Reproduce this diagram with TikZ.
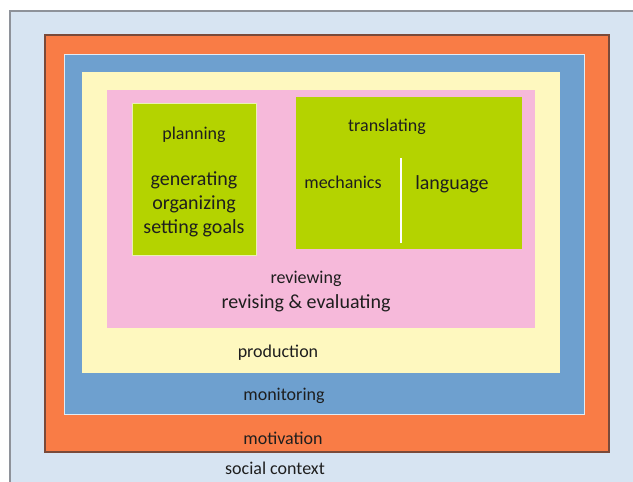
\documentclass[tikz,border=0pt]{standalone}
\usepackage{fontspec}
\setmainfont{Carlito}
\definecolor{bgblue}{HTML}{D7E4F2}
\definecolor{bgborder}{HTML}{8E929A}
\definecolor{orng}{HTML}{F97C46}
\definecolor{orngborder}{HTML}{7A4A3A}
\definecolor{mblue}{HTML}{6EA0CF}
\definecolor{ylw}{HTML}{FEF8BF}
\definecolor{pnk}{HTML}{F6B9DA}
\definecolor{grn}{HTML}{B4D300}
\definecolor{txt}{HTML}{1E1E1E}
\tikzset{
  lbl/.style={text=txt, inner sep=0pt, align=center, font=\fontsize{18}{21}\selectfont},
  biglbl/.style={text=txt, inner sep=0pt, align=center, font=\fontsize{20}{24}\selectfont},
}
\begin{document}
\begin{tikzpicture}[x=1pt,y=-1pt]
\useasboundingbox (0,0) rectangle (633,482);
\fill[white] (0,0) rectangle (633,482);
% social context
\fill[bgblue] (10,11) rectangle (640,490);
\draw[bgborder, line width=1.5pt] (10,490) -- (10,11) -- (640,11);
% motivation
\fill[orng] (45,35) rectangle (609,452);
\draw[orngborder, line width=1.2pt] (45,35) rectangle (609,452);
% monitoring
\fill[mblue] (64,54) rectangle (584,414);
\draw[white!80!mblue, line width=1pt] (64,54) rectangle (584,414);
% production
\fill[ylw] (82,72) rectangle (560,373);
% reviewing
\fill[pnk] (107,90) rectangle (535,328);
% planning
\fill[grn] (132,103) rectangle (256,255);
\draw[white!70!grn, line width=1pt] (132,103) rectangle (256,255);
% translating
\fill[grn] (296,97) rectangle (522,249);
\draw[white, line width=2.5pt] (401,158) -- (401,243);
% texts
\node[lbl] (planning) at (194,135) {planning};
\node[biglbl] (gen) at (194,180) {generating};
\node[biglbl] (org) at (194,204) {organizing};
\node[biglbl] (goals) at (194,228) {setting goals};
\node[lbl] (transl) at (387,127) {translating};
\node[lbl] (mech) at (343,182) {mechanics};
\node[biglbl] (lang) at (452,184) {language};
\node[lbl] (review) at (306,279) {reviewing};
\node[biglbl] (revise) at (306,303) {revising \& evaluating};
\node[lbl] (prod) at (278,353) {production};
\node[lbl] (monit) at (284,396) {monitoring};
\node[lbl] (motiv) at (283,438) {motivation};
\node[lbl] (social) at (275,468) {social context};
\end{tikzpicture}
\end{document}
